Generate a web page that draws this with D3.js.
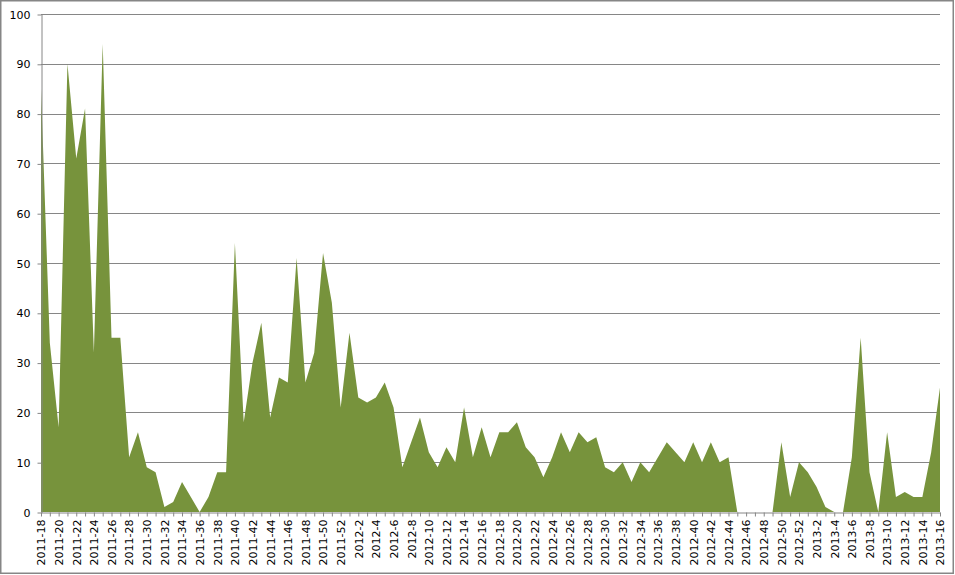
<!DOCTYPE html>
<html>
<head>
<meta charset="utf-8">
<script src="https://cdn.jsdelivr.net/npm/d3@7"></script>
<style>
  html, body { margin: 0; padding: 0; background: #fff; }
  svg { display: block; }
  text { font-family: "DejaVu Sans", Verdana, sans-serif; }
</style>
</head>
<body>
<svg id="chart" width="955" height="575"></svg>
<script>
// Categories: ISO weeks 2011-18 .. 2013-16
const weeks2011 = d3.range(18, 53).map(w => "2011-" + w);
const weeks2012 = d3.range(1, 53).map(w => "2012-" + w);
const weeks2013 = d3.range(1, 17).map(w => "2013-" + w);
const categories = [...weeks2011, ...weeks2012, ...weeks2013];

// Series values
const values2011 = [85, 34, 17, 90, 71, 81, 32, 94, 35, 35, 11, 16, 9, 8, 1, 2, 6, 3, 0, 3, 8, 8,
  54, 18, 30, 38, 19, 27, 26, 51, 26, 32, 52, 42, 21];
const values2012 = [36, 23, 22, 23, 26, 21, 9, 14, 19, 12, 9, 13, 10, 21, 11, 17, 11, 16, 16, 18,
  13, 11, 7, 11, 16, 12, 16, 14, 15, 9, 8, 10, 6, 10, 8, 11, 14, 12, 10, 14, 10, 14, 10, 11,
  0, 0, 0, 0, 0, 14, 3, 10];
const values2013 = [8, 5, 1, 0, 0, 11, 35, 8, 0, 16, 3, 4, 3, 3, 12, 25];
const values = [...values2011, ...values2012, ...values2013];

const yTicks = [0, 10, 20, 30, 40, 50, 60, 70, 80, 90, 100];
const xLabels = categories.filter((c, i) => i % 2 === 0);

const data = categories.map((c, i) => ({ c, v: values[i] }));

const svg = d3.select("#chart");
const W = 955, H = 575;
const m = { left: 41, right: 15, top: 14, bottom: 63 };
const gridColor = "#868686";

// outer border
svg.append("rect")
  .attr("x", 0.75).attr("y", 0.75)
  .attr("width", W - 2.5).attr("height", H - 2.5)
  .attr("fill", "#fff").attr("stroke", gridColor).attr("stroke-width", 1.5);

const x = d3.scalePoint().domain(categories).range([m.left, W - m.right]);
const y = d3.scaleLinear().domain([0, 100]).range([H - m.bottom, m.top]);

// gridlines
svg.append("g")
  .selectAll("line")
  .data(yTicks.filter(t => t > 0))
  .join("line")
  .attr("x1", m.left).attr("x2", W - m.right)
  .attr("y1", d => Math.round(y(d)) + 0.5).attr("y2", d => Math.round(y(d)) + 0.5)
  .attr("stroke", gridColor).attr("stroke-width", 1);

// area
const area = d3.area()
  .x(d => x(d.c))
  .y0(y(0))
  .y1(d => y(d.v));
svg.append("path")
  .datum(data)
  .attr("d", area)
  .attr("fill", "#77933C");

// y axis
const yAxis = d3.axisLeft(y).tickValues(yTicks).tickSize(4).tickPadding(7).tickSizeOuter(0);
const gy = svg.append("g")
  .attr("transform", `translate(${m.left + 0.5},0.5)`)
  .call(yAxis);
gy.select(".domain").attr("stroke", gridColor);
gy.selectAll(".tick line").attr("stroke", gridColor);
gy.selectAll(".tick text").attr("fill", "#000").style("font-size", "11px")
  .style("font-family", '"DejaVu Sans", Verdana, sans-serif');

// x axis
const xAxis = d3.axisBottom(x).tickSize(4).tickSizeOuter(0).tickFormat(d => xLabels.includes(d) ? d : "");
const gx = svg.append("g")
  .attr("transform", `translate(0,${Math.round(y(0)) + 0.5})`)
  .call(xAxis);
gx.select(".domain").attr("stroke", gridColor);
gx.selectAll(".tick line").attr("stroke", gridColor);
gx.selectAll(".tick text")
  .attr("fill", "#000")
  .style("font-size", "11px")
  .style("font-family", '"DejaVu Sans", Verdana, sans-serif')
  .attr("text-anchor", "end")
  .attr("transform", "rotate(-90)")
  .attr("x", -7)
  .attr("y", 0)
  .attr("dy", "0.35em");
</script>
</body>
</html>
